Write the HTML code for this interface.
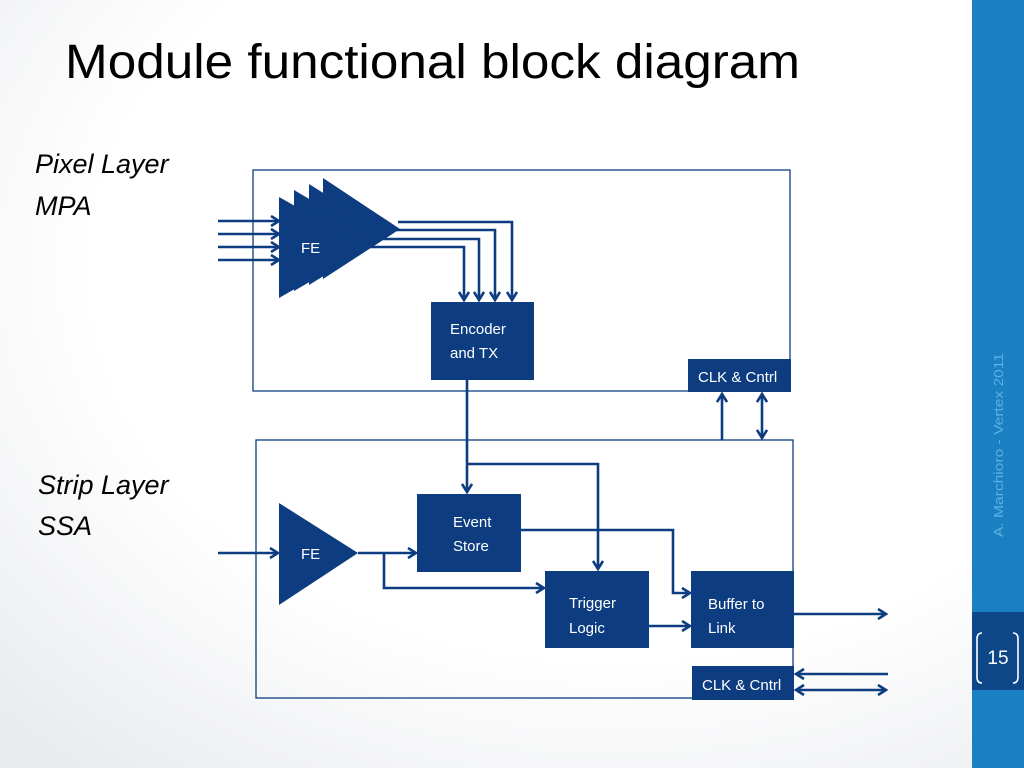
<!DOCTYPE html>
<html><head><meta charset="utf-8"><style>
html,body{margin:0;padding:0;width:1024px;height:768px;overflow:hidden}
svg{display:block}
</style></head><body>
<svg width="1024" height="768" viewBox="0 0 1024 768" xmlns="http://www.w3.org/2000/svg" font-family="Liberation Sans, sans-serif">
<defs>
<radialGradient id="bg" cx="0.6" cy="0.35" r="0.85">
<stop offset="0.6" stop-color="#ffffff"/><stop offset="1" stop-color="#e8eaed"/>
</radialGradient>
<marker id="ah" markerWidth="12" markerHeight="12" refX="10" refY="6" orient="auto-start-reverse" markerUnits="userSpaceOnUse">
<path d="M2,1 L10,6 L2,11" fill="none" stroke="#0d3d80" stroke-width="2.6"/>
</marker>
</defs>
<rect width="1024" height="768" fill="url(#bg)"/>
<rect x="972" y="0" width="52" height="768" fill="#1a80c2"/>
<rect x="972" y="612" width="52" height="78" fill="#0d4787"/>
<path d="M982,633 q-5,0 -5,6 v38 q0,6 5,6" fill="none" stroke="#fff" stroke-width="1.6"/>
<path d="M1013,633 q5,0 5,6 v38 q0,6 -5,6" fill="none" stroke="#fff" stroke-width="1.6"/>
<text x="998" y="664" font-size="19" fill="#fff" text-anchor="middle">15</text>
<text transform="translate(1003,537) rotate(-90)" font-size="13" fill="#5db0e2" textLength="184" lengthAdjust="spacingAndGlyphs">A. Marchioro - Vertex 2011</text>

<text x="65" y="78" font-size="48" fill="#000" textLength="735" lengthAdjust="spacingAndGlyphs">Module functional block diagram</text>
<g font-size="27" font-style="italic" fill="#000">
<text x="35" y="173">Pixel Layer</text><text x="35" y="215">MPA</text>
<text x="38" y="494">Strip Layer</text><text x="38" y="535">SSA</text>
</g>

<g fill="none" stroke="#0d3d80">
<rect x="253" y="170" width="537" height="221" stroke-width="1.3"/>
<rect x="256" y="440" width="537" height="258" stroke-width="1.3"/>
</g>

<g fill="#0d3d80">
<polygon points="323,178 323,279 400,229"/>
<polygon points="309,184 309,285 390,235"/>
<polygon points="294,190 294,291 380,241"/>
<polygon points="279,197 279,298 368,247"/>
<polygon points="279,503 279,605 358,553"/>
<rect x="431" y="302" width="103" height="78"/>
<rect x="688" y="359" width="103" height="33"/>
<rect x="417" y="494" width="104" height="78"/>
<rect x="545" y="571" width="104" height="77"/>
<rect x="691" y="571" width="103" height="77"/>
<rect x="692" y="666" width="102" height="34"/>
</g>
<g fill="#fff" font-size="15">
<text x="301" y="253">FE</text>
<text x="301" y="559">FE</text>
<text x="450" y="334">Encoder</text><text x="450" y="358">and TX</text>
<text x="698" y="382">CLK &amp; Cntrl</text>
<text x="453" y="527">Event</text><text x="453" y="551">Store</text>
<text x="569" y="608">Trigger</text><text x="569" y="633">Logic</text>
<text x="708" y="609">Buffer to</text><text x="708" y="633">Link</text>
<text x="702" y="690">CLK &amp; Cntrl</text>
</g>

<g fill="none" stroke="#0d3d80" stroke-width="2.6" marker-end="url(#ah)">
<line x1="218" y1="221" x2="279" y2="221"/>
<line x1="218" y1="234" x2="279" y2="234"/>
<line x1="218" y1="247" x2="279" y2="247"/>
<line x1="218" y1="260" x2="279" y2="260"/>
<polyline points="398,222 512,222 512,300"/>
<polyline points="388,230 495,230 495,300"/>
<polyline points="378,239 479,239 479,300"/>
<polyline points="366,247 464,247 464,300"/>
<line x1="467" y1="380" x2="467" y2="492"/>
<polyline points="467,464 598,464 598,569"/>
<line x1="722" y1="440" x2="722" y2="394"/>
<line x1="762" y1="438" x2="762" y2="394" marker-start="url(#ah)"/>
<line x1="218" y1="553" x2="278" y2="553"/>
<line x1="358" y1="553" x2="416" y2="553"/>
<polyline points="384,553 384,588 544,588"/>
<polyline points="521,530 673,530 673,593 690,593"/>
<line x1="649" y1="626" x2="690" y2="626"/>
<line x1="794" y1="614" x2="886" y2="614"/>
<line x1="888" y1="674" x2="796" y2="674"/>
<line x1="796" y1="690" x2="886" y2="690" marker-start="url(#ah)"/>
</g>
</svg>
</body></html>
